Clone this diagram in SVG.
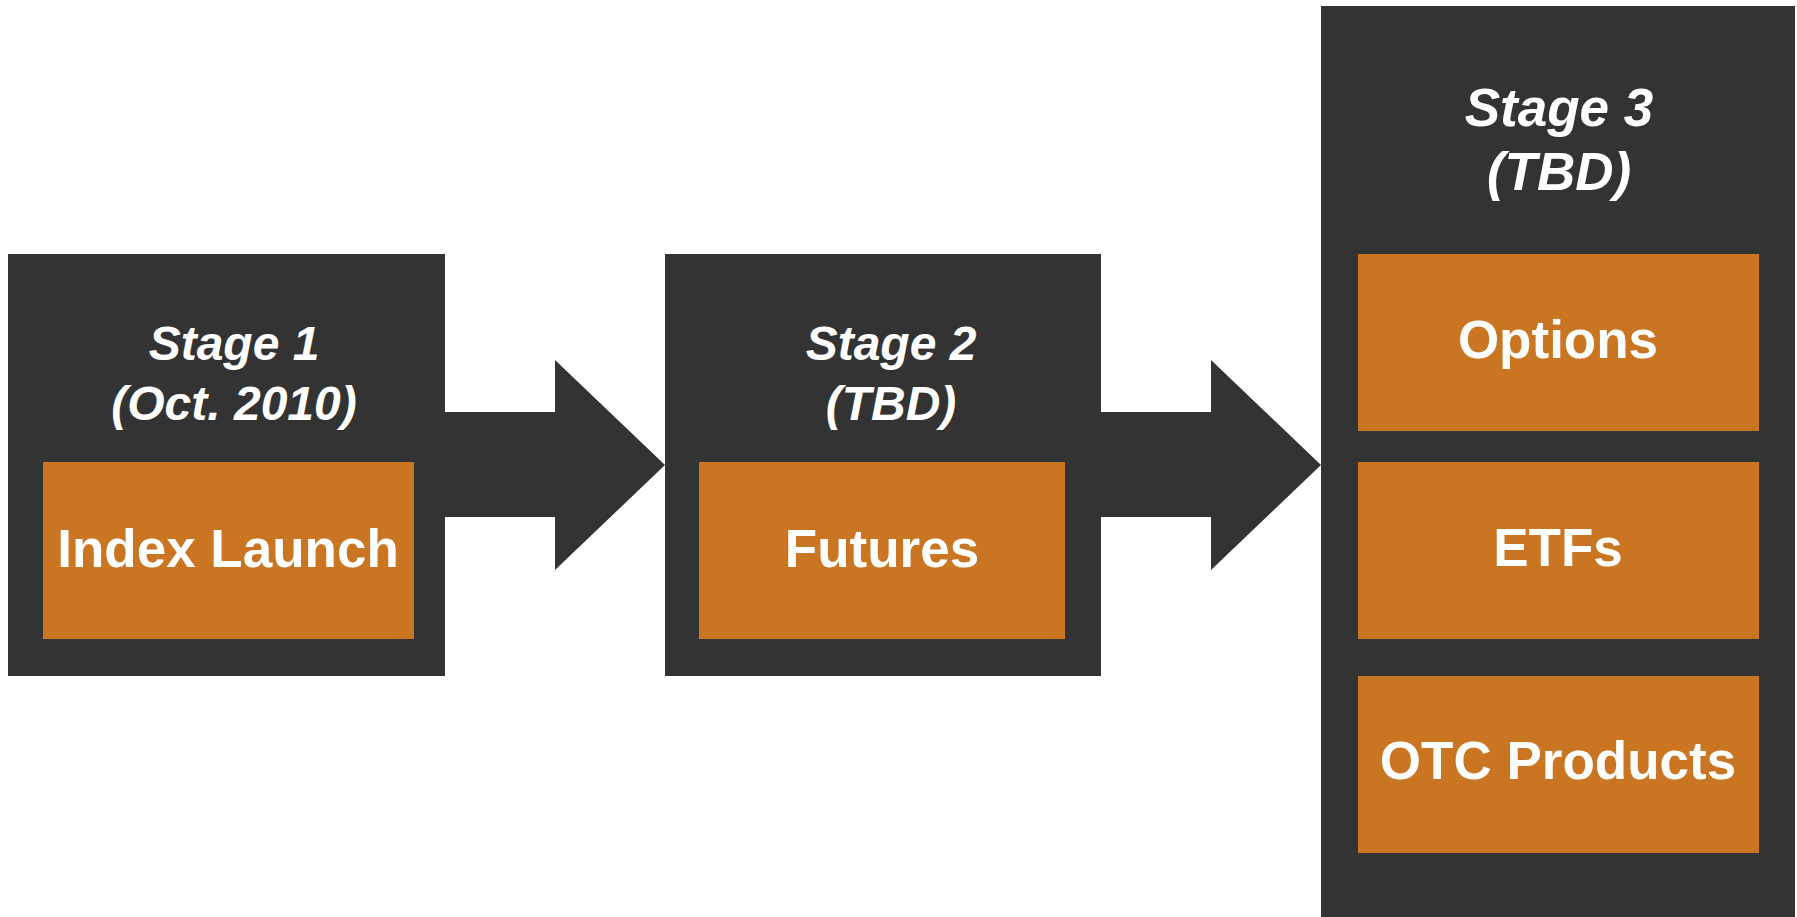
<svg xmlns="http://www.w3.org/2000/svg" width="1797" height="917" viewBox="0 0 1797 917">
<style>
.stage{fill:#333333}
.item{fill:#C97521}
.arrow{fill:#333333}
.lbl{font-family:"Liberation Sans",Arial,sans-serif;font-weight:bold;font-style:italic;font-size:48px;fill:#ffffff;text-anchor:middle}
.lbl3{font-size:53px}
.txt{font-family:"Liberation Sans",Arial,sans-serif;font-weight:bold;font-size:53px;fill:#ffffff;text-anchor:middle}
</style>
<rect width="1797" height="917" fill="#ffffff"/>
<g id="connectors">
<polygon class="arrow" points="440,412 555,412 555,360 665,465 555,570 555,517 440,517"/>
<polygon class="arrow" points="1096,412 1211,412 1211,360 1321,465 1211,570 1211,517 1096,517"/>
</g>
<g id="stage1">
<rect class="stage" x="8" y="254" width="437" height="422"/>
<text class="lbl" x="234" y="360">Stage 1</text>
<text class="lbl" x="234" y="420">(Oct. 2010)</text>
</g>
<g id="index-launch">
<rect class="item" x="43" y="462" width="371" height="177"/>
<text class="txt" x="228" y="567">Index Launch</text>
</g>
<g id="stage2">
<rect class="stage" x="665" y="254" width="436" height="422"/>
<text class="lbl" x="891" y="360">Stage 2</text>
<text class="lbl" x="891" y="420">(TBD)</text>
</g>
<g id="futures">
<rect class="item" x="699" y="462" width="366" height="177"/>
<text class="txt" x="882" y="567">Futures</text>
</g>
<g id="stage3">
<rect class="stage" x="1321" y="6" width="474" height="911"/>
<text class="lbl lbl3" x="1559" y="126">Stage 3</text>
<text class="lbl lbl3" x="1559" y="190">(TBD)</text>
</g>
<g id="options">
<rect class="item" x="1358" y="254" width="401" height="177"/>
<text class="txt" x="1558" y="358">Options</text>
</g>
<g id="etfs">
<rect class="item" x="1358" y="462" width="401" height="177"/>
<text class="txt" x="1558" y="566">ETFs</text>
</g>
<g id="otc-products">
<rect class="item" x="1358" y="676" width="401" height="177"/>
<text class="txt" x="1558" y="779">OTC Products</text>
</g>
</svg>
